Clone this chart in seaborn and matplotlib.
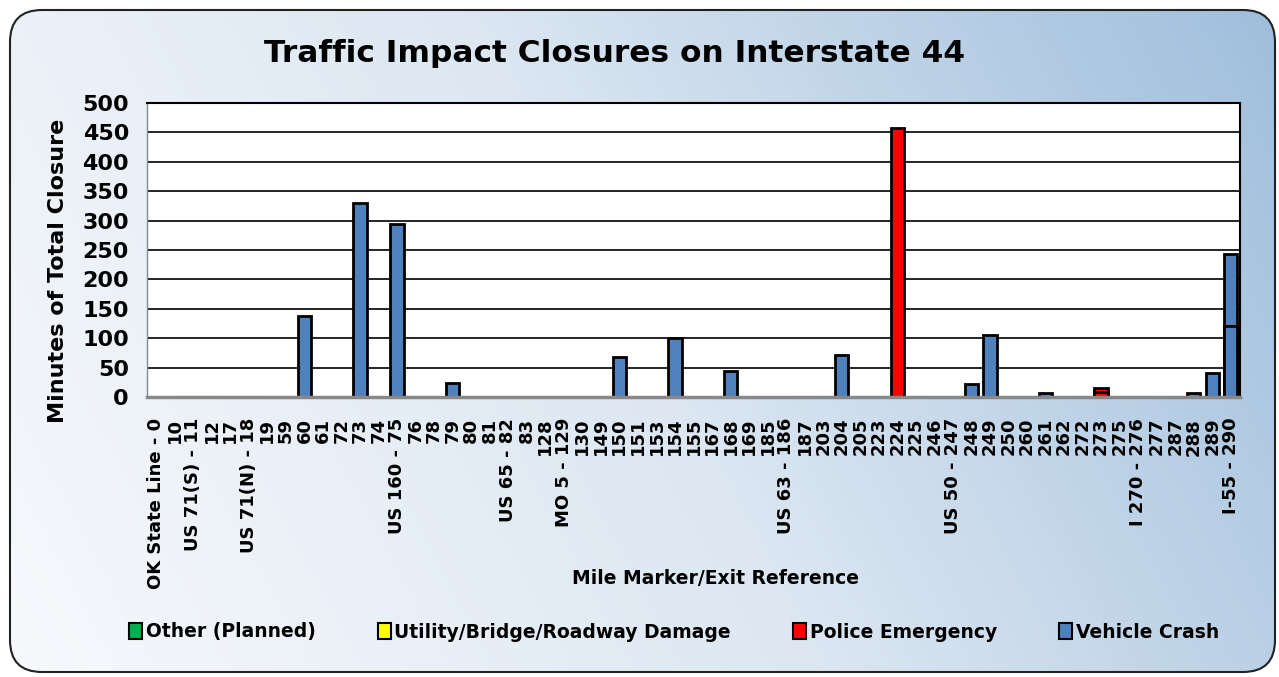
import numpy as np
import pandas as pd
import seaborn as sns
import matplotlib.pyplot as plt
from matplotlib.patches import FancyBboxPatch, Patch
from matplotlib.colors import LinearSegmentedColormap

sns.set_theme(style="white")
plt.rcParams['font.family'] = ['DejaVu Sans']
plt.rcParams['font.weight'] = 'bold'
plt.rcParams['text.color'] = 'black'
plt.rcParams['axes.labelcolor'] = 'black'
plt.rcParams['xtick.color'] = 'black'
plt.rcParams['ytick.color'] = 'black'

# category axis: mile marker / exit reference
mile_labels = ["OK State Line - 0", "10", "US 71(S) - 11", "12", "17", "US 71(N) - 18", "19", "59", "60", "61",
               "72", "73", "74", "US 160 - 75", "76", "78", "79", "80", "81", "US 65 - 82",
               "83", "128", "MO 5 - 129", "130", "149", "150", "151", "153", "154", "155",
               "167", "168", "169", "185", "US 63 - 186", "187", "203", "204", "205", "223",
               "224", "225", "246", "US 50 - 247", "248", "249", "250", "260", "261", "262",
               "272", "273", "275", "I 270 - 276", "277", "287", "288", "289", "I-55 - 290"]

# individual closures (stacked when several fall on one marker)
closure_at = ["60", "73", "US 160 - 75", "79", "150", "154", "168", "204", "224",
              "248", "249", "261", "273", "273", "288", "289", "I-55 - 290", "I-55 - 290"]
closure_type = ["Vehicle Crash"] * 8 + ["Police Emergency"] + ["Vehicle Crash"] * 3 + \
               ["Police Emergency", "Police Emergency"] + ["Vehicle Crash"] * 4
closure_minutes = [138, 330, 294, 24, 68, 100, 44, 72, 457,
                   22, 106, 6, 9, 6, 6, 41, 121, 122]

type_names = ["Other (Planned)", "Utility/Bridge/Roadway Damage", "Police Emergency", "Vehicle Crash"]
type_colors = ["#00B050", "#FFFF00", "#FF0000", "#4F81BD"]
palette = dict(zip(type_names, type_colors))

df = pd.DataFrame({"at": closure_at, "type": closure_type, "minutes": closure_minutes})
df["level"] = df.groupby("at").cumcount()
df["top"] = df.groupby("at")["minutes"].cumsum()

fig = plt.figure(figsize=(12.79, 6.77), dpi=100)
fig.patch.set_facecolor("white")

# background panel with gradient and rounded border
ax_bg = fig.add_axes([0, 0, 1, 1], zorder=-10)
ax_bg.set_xlim(0, 1279)
ax_bg.set_ylim(677, 0)
ax_bg.axis("off")
xx, yy = np.meshgrid(np.linspace(0, 1, 300), np.linspace(0, 1, 200))
grad = 0.78 * xx + 0.22 * (1 - yy)
cmap = LinearSegmentedColormap.from_list("bg", ["#f7f9fc", "#dce7f2", "#9fbedc"])
box = FancyBboxPatch((10, 10), 1265, 662, boxstyle="round,pad=0,rounding_size=32",
                     facecolor="none", edgecolor="#222222", linewidth=1.5, zorder=2)
ax_bg.add_patch(box)
im = ax_bg.imshow(grad, extent=(0, 1279, 677, 0), cmap=cmap, aspect="auto", zorder=1)
im.set_clip_path(box)

ax = fig.add_axes([147 / 1279, 1 - 397 / 677, 1093 / 1279, 294 / 677])
ax.set_facecolor("white")
ax.set_axisbelow(True)

bar_kw = dict(x="at", y="top", hue="type", order=mile_labels, hue_order=type_names,
              palette=palette, saturation=1, dodge=False, width=0.72, edgecolor="black",
              linewidth=2, errorbar=None, legend=False, ax=ax)

# totals first, lower segments of stacked markers drawn on top
for lvl in sorted(df["level"].unique(), reverse=True):
    sub = df[df["level"] <= lvl].groupby("at", as_index=False).last()
    sub = sub[sub["at"].isin(df.loc[df["level"] == lvl, "at"])]
    sns.barplot(data=sub, **bar_kw)
base = df[df["level"] == 0]
stacked = base[base["at"].isin(df.loc[df["level"] > 0, "at"])]
sns.barplot(data=stacked, **bar_kw)

ax.set_xlim(-0.5, len(mile_labels) - 0.5)
ax.set_ylim(0, 500)
ax.set_yticks(range(0, 501, 50))
ax.yaxis.grid(True, color="black", linewidth=1.2)
ax.xaxis.grid(False)

ax.set_xticks(range(len(mile_labels)))
ax.set_xticklabels(mile_labels, rotation=90, fontsize=13, fontweight="bold")
ax.set_xticks(np.arange(-0.5, len(mile_labels), 1), minor=True)
ax.tick_params(axis="x", which="major", length=0, pad=15)
ax.tick_params(axis="x", which="minor", length=7, width=1.5, color="#888888", direction="out")
ax.tick_params(axis="y", length=0, pad=13, labelsize=16)
for t in ax.get_yticklabels():
    t.set_fontweight("bold")

for s in ["top", "right"]:
    ax.spines[s].set_color("black")
    ax.spines[s].set_linewidth(1.5)
ax.spines["left"].set_color("#888888")
ax.spines["left"].set_linewidth(1)
ax.spines["bottom"].set_color("#888888")
ax.spines["bottom"].set_linewidth(2.5)

ax.set_xlabel("Mile Marker/Exit Reference", fontsize=13.5, fontweight="bold")
ax.xaxis.set_label_coords(0.52, -0.585)
ax.set_ylabel("Minutes of Total Closure", fontsize=16, fontweight="bold")
ax.yaxis.set_label_coords(-0.072, 0.43)

fig.text(615 / 1279, 1 - 53 / 677, "Traffic Impact Closures on Interstate 44",
         ha="center", va="center", fontsize=22.5, fontweight="bold")

handles = [Patch(facecolor=c, edgecolor="black", linewidth=1.5, label=n)
           for n, c in zip(type_names, type_colors)]
fig.legend(handles=handles, loc="center", bbox_to_anchor=(0.527, 1 - 632 / 677), ncol=4,
           frameon=False, handlelength=0.7, handleheight=0.9, handletextpad=0.2,
           columnspacing=3.3, prop={"size": 13.5, "weight": "bold"})

fig.savefig("out.png", dpi=100)
